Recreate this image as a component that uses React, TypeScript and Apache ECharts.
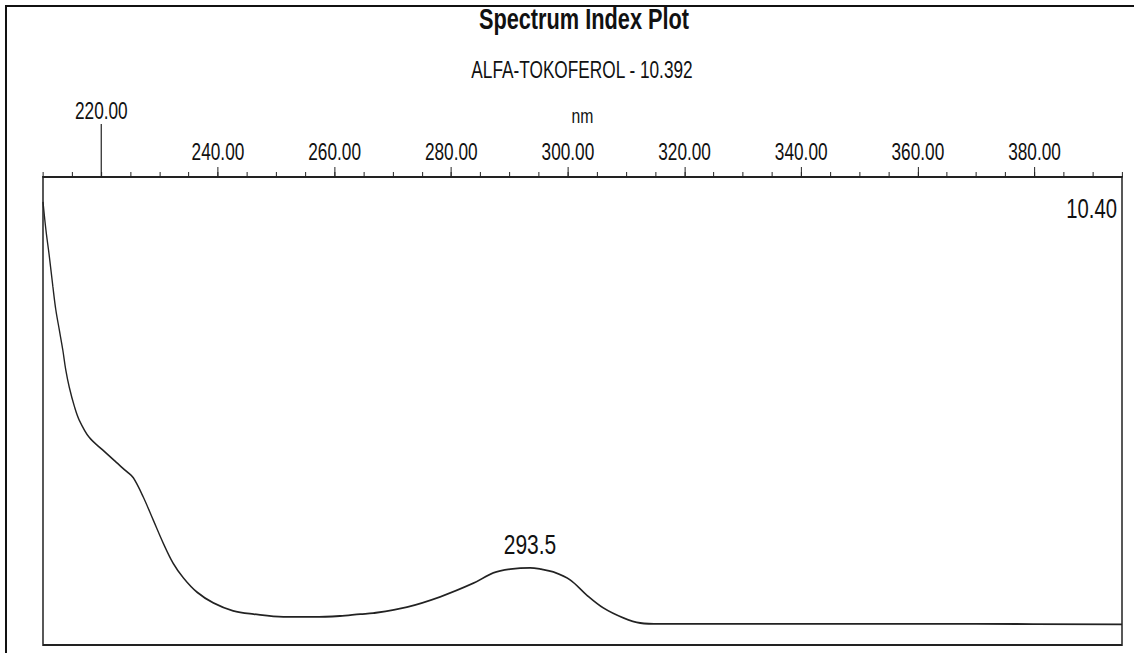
import React, { useEffect, useRef } from "react";
import * as echarts from "echarts";

// UV spectrum (PDA) of the alpha-tocopherol peak
const wavelengths = [
  210.0, 210.5, 211.1, 211.7, 212.2, 212.8, 213.4, 213.9, 214.5, 215.4, 216.2,
  217.9, 220.2, 222.5, 224.4, 225.5, 227.2, 228.9, 230.6, 232.3, 234.1, 236.4,
  239.2, 242.6, 246.1, 251.2, 256.3, 260.9, 264.4, 266.6, 272.4, 278.1, 283.8,
  287.2, 290.1, 293.5, 295.4, 297.5, 300.4, 303.2, 306.1, 309.5, 312.4, 315.8,
  330.0, 350.0, 370.0, 395.0,
];
const absorbance = [
  0.947, 0.887, 0.829, 0.765, 0.716, 0.673, 0.63, 0.588, 0.551, 0.509, 0.481,
  0.444, 0.417, 0.391, 0.37, 0.357, 0.316, 0.267, 0.218, 0.175, 0.143, 0.113,
  0.09, 0.073, 0.066, 0.06, 0.06, 0.062, 0.066, 0.068, 0.081, 0.103, 0.132,
  0.154, 0.162, 0.165, 0.162, 0.156, 0.139, 0.107, 0.079, 0.058, 0.047, 0.045,
  0.045, 0.045, 0.045, 0.044,
];
const majorTickLabels = [240, 260, 280, 300, 320, 340, 360, 380];
const raisedTickLabels = [220];
const peakWavelength = 293.5;

const plotTitle = "Spectrum Index Plot";
const compoundLabel = "ALFA-TOKOFEROL - 10.392";
const retentionLabel = "10.40";

// The printout uses a condensed face: the chart is laid out wide and
// squeezed horizontally so every glyph gets the same narrow proportions.
const SQUEEZE = 0.75;
const WIDTH = 1134;
const HEIGHT = 653;
const sx = (px: number) => px / SQUEEZE;

const FONT = '"Liberation Sans", Arial, Helvetica, sans-serif';
const INK = "#111";

export default function App() {
  const ref = useRef<HTMLDivElement>(null);

  useEffect(() => {
    const chart = echarts.init(ref.current!, null, { renderer: "svg" });

    const minX = 210;
    const maxX = 395;
    const fineTicks: number[] = [];
    for (let v = minX; v <= maxX; v += 5) fineTicks.push(v);

    const peakIndex = wavelengths.indexOf(peakWavelength);
    const tickFont = { fontFamily: FONT, fontSize: 23, color: INK };
    const tickLine = { color: "#222", width: 1.33 };
    const baseX = {
      type: "value",
      position: "top",
      min: minX,
      max: maxX,
      splitLine: { show: false },
    };

    chart.setOption({
      animation: false,
      backgroundColor: "#fff",
      grid: {
        left: sx(43),
        right: sx(12),
        top: 177,
        bottom: 8,
        show: true,
        borderColor: "#222",
        borderWidth: 2,
      },
      xAxis: [
        {
          ...baseX,
          name: "nm",
          nameLocation: "middle",
          nameGap: 51,
          nameTextStyle: { fontFamily: FONT, fontSize: 21, color: INK },
          axisLine: { show: true, onZero: false, lineStyle: { color: "#222", width: 2 } },
          axisTick: { show: true, customValues: fineTicks, length: 5, lineStyle: tickLine },
          axisLabel: {
            show: true,
            customValues: majorTickLabels,
            margin: 13,
            formatter: (v: number) => v.toFixed(2),
            ...tickFont,
          },
        },
        {
          ...baseX,
          axisLine: { show: false, onZero: false },
          axisTick: { show: true, customValues: majorTickLabels, length: 10, lineStyle: tickLine },
          axisLabel: { show: false },
        },
        {
          ...baseX,
          axisLine: { show: false, onZero: false },
          axisTick: {
            show: true,
            customValues: raisedTickLabels,
            length: 53,
            lineStyle: { color: "#222", width: 1.6 },
          },
          axisLabel: {
            show: true,
            customValues: raisedTickLabels,
            margin: 54,
            formatter: (v: number) => v.toFixed(2),
            ...tickFont,
          },
        },
      ],
      yAxis: { type: "value", min: 0, max: 1, show: false },
      series: [
        {
          type: "line",
          data: wavelengths.map((w, i) => [w, absorbance[i]]),
          showSymbol: false,
          smooth: 0.35,
          lineStyle: { color: "#222", width: 1.8 },
          markPoint: {
            symbol: "circle",
            symbolSize: 0,
            data: [
              {
                coord: [wavelengths[peakIndex], absorbance[peakIndex]],
                value: wavelengths[peakIndex],
              },
            ],
            label: {
              show: true,
              position: "top",
              distance: 9,
              formatter: "{c}",
              fontFamily: FONT,
              fontSize: 28,
              color: INK,
            },
          },
        },
      ],
      graphic: [
        {
          type: "line",
          shape: { x1: sx(6), y1: 6, x2: sx(WIDTH), y2: 6 },
          style: { stroke: INK, lineWidth: 2 },
          silent: true,
        },
        {
          type: "line",
          shape: { x1: sx(6), y1: 5, x2: sx(6), y2: HEIGHT },
          style: { stroke: INK, lineWidth: 2.67 },
          silent: true,
        },
        {
          type: "text",
          x: sx(584),
          y: 19,
          style: {
            text: plotTitle,
            fontFamily: FONT,
            fontSize: 29,
            fontWeight: "bold",
            fill: INK,
            align: "center",
            verticalAlign: "middle",
          },
        },
        {
          type: "text",
          x: sx(582),
          y: 70,
          style: {
            text: compoundLabel,
            fontFamily: FONT,
            fontSize: 23,
            fill: INK,
            align: "center",
            verticalAlign: "middle",
          },
        },
        {
          type: "text",
          x: sx(1117),
          y: 208,
          style: {
            text: retentionLabel,
            fontFamily: FONT,
            fontSize: 27,
            fill: INK,
            align: "right",
            verticalAlign: "middle",
          },
        },
      ],
    });

    return () => chart.dispose();
  }, []);

  return (
    <div
      ref={ref}
      style={{
        position: "fixed",
        left: 0,
        top: 0,
        width: sx(WIDTH),
        height: HEIGHT,
        transform: `scaleX(${SQUEEZE})`,
        transformOrigin: "0 0",
      }}
    />
  );
}
